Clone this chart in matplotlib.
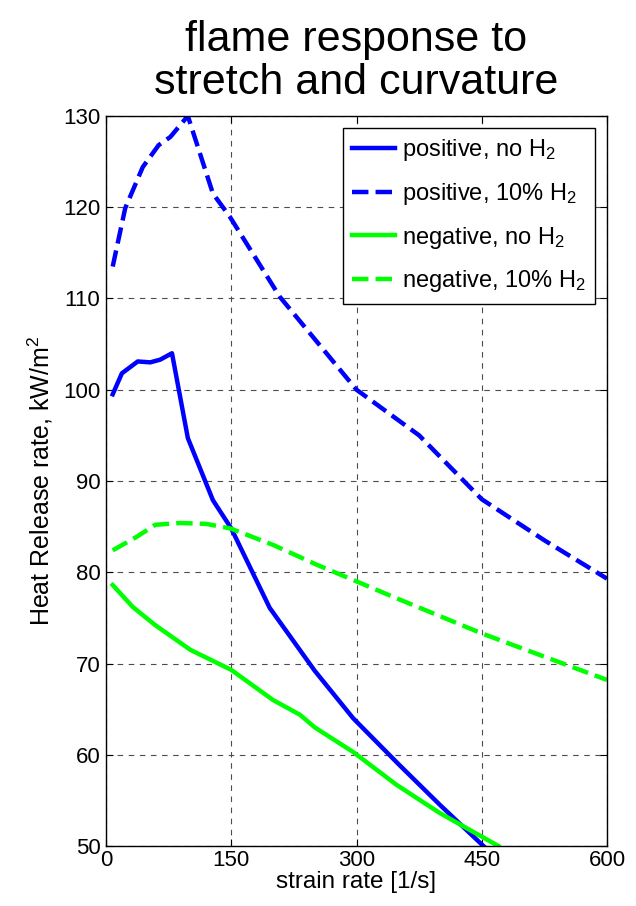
import matplotlib

matplotlib.use("Agg")
import matplotlib.pyplot as plt  # noqa: E402

plt.rcParams["font.family"] = ["Liberation Sans", "DejaVu Sans"]
plt.rcParams["mathtext.fontset"] = "custom"
plt.rcParams["mathtext.rm"] = "Liberation Sans"
plt.rcParams["mathtext.default"] = "rm"

# strain rate [1/s] vs heat release rate [kW/m^2]
pos_noh2_x = [8, 19, 38, 53, 65, 79, 98, 128, 150, 196, 250, 296, 350, 400, 452]
pos_noh2_y = [99.5, 101.8, 103.1, 103.0, 103.3, 104.0, 94.7, 87.9, 84.8, 76.1, 69.2, 64.0, 59.0, 54.5, 50.0]

pos_h2_x = [8, 23, 44, 63, 77, 98, 128, 148, 208, 300, 375, 450, 525, 600]
pos_h2_y = [113.5, 119.9, 124.4, 126.8, 127.7, 130.0, 121.5, 119.0, 110.2, 100.0, 95.0, 88.0, 83.5, 79.3]

neg_noh2_x = [8, 32, 59, 101, 150, 200, 232, 250, 296, 348, 400, 470]
neg_noh2_y = [78.6, 76.2, 74.2, 71.5, 69.3, 66.0, 64.4, 63.0, 60.3, 56.7, 53.6, 50.0]

neg_h2_x = [8, 37, 59, 89, 120, 149, 200, 253, 300, 344, 450, 600]
neg_h2_y = [82.4, 83.9, 85.2, 85.4, 85.3, 84.8, 83.0, 80.8, 79.0, 77.3, 73.3, 68.2]

fig = plt.figure(figsize=(6.36, 9.06), dpi=100)
ax = fig.add_axes([0.1667, 0.0662, 0.7877, 0.8058])

ax.plot(pos_noh2_x, pos_noh2_y, "-", color="#0000ff", lw=3.2, label="positive, no H$_2$")
ax.plot(pos_h2_x, pos_h2_y, "--", color="#0000ff", lw=3.2, label="positive, 10% H$_2$")
ax.plot(neg_noh2_x, neg_noh2_y, "-", color="#00ff00", lw=3.2, label="negative, no H$_2$")
ax.plot(neg_h2_x, neg_h2_y, "--", color="#00ff00", lw=3.2, label="negative, 10% H$_2$")

ax.set_xlim(0, 600)
ax.set_ylim(50, 130)
ax.set_xticks([0, 150, 300, 450, 600])
ax.set_yticks(range(50, 131, 10))
ax.tick_params(direction="in", top=True, right=True, labelsize=16, length=5)
ax.tick_params(axis="y", pad=4)
ax.tick_params(axis="x", pad=3)
ax.grid(True, color="0.3", ls=(0, (5, 5)), lw=0.8)
for s in ax.spines.values():
    s.set_linewidth(1.0)

ax.set_xlabel("strain rate [1/s]", fontsize=17.5, labelpad=0)
ax.set_ylabel("Heat Release rate, kW/m$^2$", fontsize=18, labelpad=6)
ax.set_title("flame response to\nstretch and curvature", fontsize=31, linespacing=1.1, pad=16)

leg = ax.legend(loc="upper right", fontsize=17, fancybox=False, framealpha=1,
                edgecolor="black", handlelength=1.8, handletextpad=0.3,
                borderaxespad=0.5, borderpad=0.4, labelspacing=0.75)
leg.get_frame().set_linewidth(1.0)

fig.savefig("out.png", dpi=100)
